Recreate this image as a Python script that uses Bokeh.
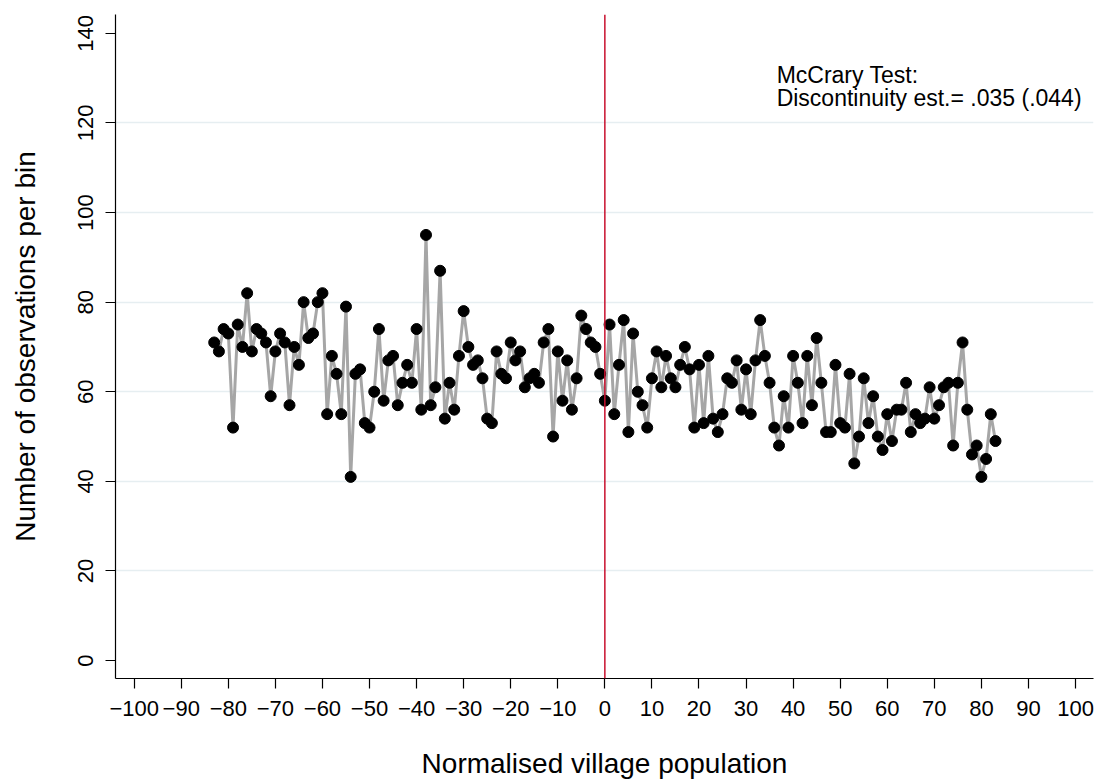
from bokeh.plotting import figure
from bokeh.models import ColumnDataSource, FixedTicker, Range1d, Span, Label
from bokeh.embed import file_html
from bokeh.resources import INLINE

# Bin centres (normalised village population) and counts per bin
bins = list(range(-83, 84))
counts = [
    71, 69, 74, 73, 52, 75, 70, 82, 69, 74,   # -83 .. -74
    73, 71, 59, 69, 73, 71, 57, 70, 66, 80,   # -73 .. -64
    72, 73, 80, 82, 55, 68, 64, 55, 79, 41,   # -63 .. -54
    64, 65, 53, 52, 60, 74, 58, 67, 68, 57,   # -53 .. -44
    62, 66, 62, 74, 56, 95, 57, 61, 87, 54,   # -43 .. -34
    62, 56, 68, 78, 70, 66, 67, 63, 54, 53,   # -33 .. -24
    69, 64, 63, 71, 67, 69, 61, 63, 64, 62,   # -23 .. -14
    71, 74, 50, 69, 58, 67, 56, 63, 77, 74,   # -13 .. -4
    71, 70, 64, 58, 75, 55, 66, 76, 51, 73,   # -3 .. 6
    60, 57, 52, 63, 69, 61, 68, 63, 61, 66,   # 7 .. 16
    70, 65, 52, 66, 53, 68, 54, 51, 55, 63,   # 17 .. 26
    62, 67, 56, 65, 55, 67, 76, 68, 62, 52,   # 27 .. 36
    48, 59, 52, 68, 62, 53, 68, 57, 72, 62,   # 37 .. 46
    51, 51, 66, 53, 52, 64, 44, 50, 63, 53,   # 47 .. 56
    59, 50, 47, 55, 49, 56, 56, 62, 51, 55,   # 57 .. 66
    53, 54, 61, 54, 57, 61, 62, 48, 62, 71,   # 67 .. 76
    56, 46, 48, 41, 45, 55, 49,               # 77 .. 83
]

x_ticks = list(range(-100, 101, 10))
x_tick_labels = {t: (str(t).replace("-", "\u2212")) for t in x_ticks}
y_ticks = list(range(0, 141, 20))
grid_ticks = [20, 40, 60, 80, 100, 120]

annotation_lines = ["McCrary Test:", "Discontinuity est.= .035 (.044)"]

FONT = "Liberation Sans"

src = ColumnDataSource(data=dict(x=bins, y=counts))

p = figure(
    width=1096, height=781,
    output_backend="svg", toolbar_location=None,
    x_range=Range1d(-103.97, 103.82), y_range=Range1d(-4.0, 144.2),
    min_border_left=115, min_border_right=3, min_border_top=14, min_border_bottom=100,
)
p.outline_line_color = None
p.background_fill_color = "white"
p.border_fill_color = "white"

# grid
p.xgrid.visible = False
p.ygrid.ticker = FixedTicker(ticks=grid_ticks)
p.ygrid.grid_line_color = "#e6eef1"
p.ygrid.grid_line_width = 1.5

# axes
for ax in (p.xaxis[0], p.yaxis[0]):
    ax.axis_line_color = "black"
    ax.axis_line_width = 1.2
    ax.major_tick_line_color = "black"
    ax.major_tick_line_width = 1.2
    ax.major_tick_out = 10
    ax.major_tick_in = 0
    ax.minor_tick_line_color = None
    ax.major_label_text_font = FONT
    ax.major_label_text_font_size = "22px"
    ax.major_label_text_color = "black"
    ax.axis_label_text_font = FONT
    ax.axis_label_text_font_size = "28px"
    ax.axis_label_text_font_style = "normal"
    ax.axis_label_text_color = "black"

p.xaxis.ticker = FixedTicker(ticks=x_ticks)
p.xaxis.major_label_overrides = x_tick_labels
p.xaxis.major_label_standoff = 12
p.xaxis.axis_label = "Normalised village population"
p.xaxis.axis_label_standoff = 29

p.yaxis.ticker = FixedTicker(ticks=y_ticks)
p.yaxis.major_label_orientation = "vertical"
p.yaxis.major_label_standoff = 12
p.yaxis.axis_label = "Number of observations per bin"
p.yaxis.axis_label_standoff = 35

# cutoff line
p.add_layout(Span(location=0, dimension="height", line_color="#c8102e", line_width=1.5))

# series
p.line("x", "y", source=src, line_color="#a6a6a6", line_width=3)
p.scatter("x", "y", source=src, size=11, fill_color="black", line_color="black")

# annotation
p.add_layout(Label(x=36.5, y=130.7, text=annotation_lines[0], text_font=FONT,
                   text_font_size="23px", text_color="black", text_baseline="alphabetic"))
p.add_layout(Label(x=36.5, y=125.5, text=annotation_lines[1], text_font=FONT,
                   text_font_size="23px", text_color="black", text_baseline="alphabetic"))

open("out.html", "w").write(file_html(p, INLINE))
